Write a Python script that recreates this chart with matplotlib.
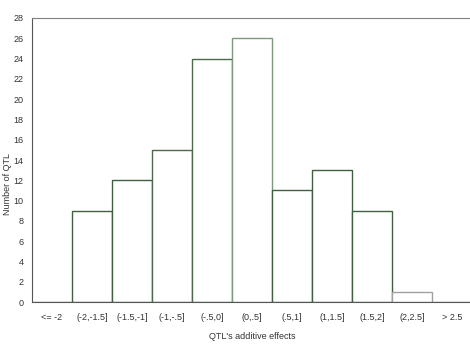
import matplotlib.pyplot as plt

plt.rcParams['font.family'] = ['Liberation Sans', 'DejaVu Sans']

categories = ['<= -2', '(-2,-1.5]', '(-1.5,-1]', '(-1,-.5]', '(-.5,0]', '(0,.5]',
              '(.5,1]', '(1,1.5]', '(1.5,2]', '(2,2.5]', '> 2.5']
counts = [0, 9, 12, 15, 24, 26, 11, 13, 9, 1, 0]
edge_colors = ['#6a7a6a', '#3f5f3f', '#3f5f3f', '#4a6a4a', '#4a6a4a', '#7a9a7a',
               '#3f5f3f', '#3f5f3f', '#3f5f3f', '#a0a0a0', '#808080']

fig = plt.figure(figsize=(4.7, 3.46), dpi=100)
ax = fig.add_axes([0.068, 0.127, 0.936, 0.821])

x = list(range(len(categories)))
ax.bar(x, counts, width=1.0, color='white', edgecolor=edge_colors, linewidth=1.0)

ax.set_xlim(-0.5, len(categories) - 0.5)
ax.set_ylim(0, 28)
ax.set_yticks(range(0, 29, 2))
ax.set_xticks(x)
ax.set_xticklabels(categories)
ax.tick_params(axis='both', length=0, labelsize=6.5, colors='#333333')
ax.tick_params(axis='x', pad=8)
ax.tick_params(axis='y', pad=6)

ax.spines['right'].set_visible(False)
ax.spines['top'].set_color('#808080')
ax.spines['left'].set_color('#555555')
ax.spines['bottom'].set_color('#555555')

ax.set_xlabel("QTL's additive effects", fontsize=6.5, color='#333333')
ax.set_ylabel('Number of QTL', fontsize=6.5, color='#333333')
ax.xaxis.set_label_coords(0.5, -0.105)
ax.yaxis.set_label_coords(-0.045, 0.415)

fig.savefig('out.png', dpi=100)
plt.close(fig)
